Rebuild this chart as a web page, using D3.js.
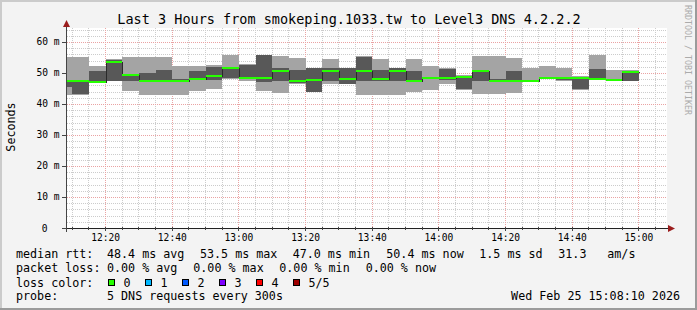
<!DOCTYPE html>
<html lang="en">
<head>
<meta charset="utf-8">
<title>Last 3 Hours from smokeping.1033.tw to Level3 DNS 4.2.2.2</title>
<script src="https://d3js.org/d3.v7.min.js"></script>
<style>
body,html{margin:0;padding:0;background:#f3f3f3;}
svg{display:block;font-family:"DejaVu Sans Mono",monospace;}
</style>
</head>
<body>
<script>
// end time of each 5 minute sample
var times = ["12:10","12:15","12:20","12:25","12:30","12:35","12:40","12:45","12:50","12:55",
             "13:00","13:05","13:10","13:15","13:20","13:25","13:30","13:35","13:40","13:45",
             "13:50","13:55","14:00","14:05","14:10","14:15","14:20","14:25","14:30","14:35",
             "14:40","14:45","14:50","14:55","15:00"];
// sorted pings in ms (5 per sample)
var pingMin = [43.0,43.0,46.7,47.3,44.3,43.0,43.0,43.0,44.1,44.7, 48.2,47.5,44.2,43.4,46.6,43.7,46.6,46.5,43.0,43.0, 43.0,43.8,44.4,46.6,44.6,43.1,43.1,43.4,47.1,48.0, 47.5,44.6,47.7,47.3,47.3];
var ping2   = [45.4,43.1,46.8,47.5,47.4,47.1,47.1,47.1,47.9,47.8, 48.4,48.0,47.1,47.3,46.8,43.8,47.3,46.6,47.3,47.3, 47.3,47.1,48.0,47.8,44.8,47.3,47.2,47.1,47.2,48.1, 47.6,44.7,47.8,47.4,47.4];
var median  = [47.3,47.3,47.0,53.5,49.3,47.3,47.3,47.3,48.1,48.9, 51.6,48.3,48.5,50.5,47.3,47.8,50.5,47.9,50.5,48.0, 50.6,47.3,48.3,48.4,48.7,50.5,47.4,47.3,47.3,48.3, 48.3,48.5,48.0,47.8,50.4];
var ping4   = [47.6,47.6,50.5,54.3,49.6,50.1,51.1,48.1,50.7,52.0, 52.0,52.7,55.7,51.6,51.1,51.6,51.6,51.6,55.1,51.1, 51.6,50.7,48.8,51.4,49.0,50.6,47.9,50.5,47.6,48.6, 48.5,48.8,51.4,48.0,50.6];
var pingMax = [55.2,55.2,52.1,54.4,55.3,55.3,55.3,52.4,52.3,52.7, 55.7,52.8,55.9,55.4,54.7,51.7,54.6,51.7,55.4,54.6, 51.7,54.6,52.1,51.5,49.2,55.4,55.4,54.7,51.6,52.1, 51.5,49.0,55.7,51.1,50.8];

var yTicks = [0,10,20,30,40,50,60];
var rttStats = ["48.4 ms avg","53.5 ms max","47.0 ms min","50.4 ms now","1.5 ms sd","31.3","am/s"];
var lossStats = ["0.00 % avg","0.00 % max","0.00 % min","0.00 % now"];
var lossLabels = ["0","1","2","3","4","5/5"];
var lossColors = ["#26ff00","#00b8ff","#0059ff","#7e00ff","#ff0000","#a00000"];

var W = 697, H = 310;
var svg = d3.select("body").append("svg").attr("width", W).attr("height", H);

function tm(s, sec){ var p = s.split(":"); return new Date(2026,1,25,+p[0],+p[1],sec||0); }

var x = d3.scaleTime()
  .domain([tm("12:08",25), tm("15:08",25)])
  .range([67, 667]);
var y = d3.scaleLinear().domain([0, 64.5]).range([228, 28]);

// background + shaded frame
svg.append("rect").attr("width", W).attr("height", H).attr("fill", "#f3f3f3");
svg.append("path").attr("d", "M0,310 V0 H697 V2 H2 V310 Z").attr("fill", "#cbcbcb");
svg.append("path").attr("d", "M697,0 V310 H0 V308 H695 V0 Z").attr("fill", "#9b9b9b");

// canvas
svg.append("rect").attr("x", 67).attr("y", 28).attr("width", 600).attr("height", 200).attr("fill", "#fff");

var grid = svg.append("g").attr("shape-rendering", "crispEdges").attr("stroke-dasharray", "1,1");

// horizontal grid
grid.selectAll(".hmin").data(d3.range(2, 65, 2).filter(function(d){ return d % 10; }))
  .enter().append("line")
  .attr("x1", 67).attr("x2", 667)
  .attr("y1", function(d){ return Math.round(y(d)) + 0.5; })
  .attr("y2", function(d){ return Math.round(y(d)) + 0.5; })
  .attr("stroke", "#cccccc");

// vertical grid
var fiveMin = x.ticks(d3.timeMinute.every(5));
grid.selectAll(".vmin").data(fiveMin.filter(function(d){ return d.getMinutes() % 20; }))
  .enter().append("line")
  .attr("x1", function(d){ return Math.floor(x(d)) + 0.5; })
  .attr("x2", function(d){ return Math.floor(x(d)) + 0.5; })
  .attr("y1", 28).attr("y2", 228)
  .attr("stroke", "#cccccc");

grid.selectAll(".hmaj").data(yTicks.slice(1))
  .enter().append("line")
  .attr("x1", 67).attr("x2", 667)
  .attr("y1", function(d){ return Math.round(y(d)) + 0.5; })
  .attr("y2", function(d){ return Math.round(y(d)) + 0.5; })
  .attr("stroke", "#eaa3a3");

var majors = x.ticks(d3.timeMinute.every(20));
grid.selectAll(".vmaj").data(majors)
  .enter().append("line")
  .attr("x1", function(d){ return Math.floor(x(d)) + 0.5; })
  .attr("x2", function(d){ return Math.floor(x(d)) + 0.5; })
  .attr("y1", 28).attr("y2", 228)
  .attr("stroke", "#eaa3a3");

// smoke
var cols = times.map(function(t, i){
  var end = tm(t);
  var start = new Date(end.getTime() - 300000);
  return { x0: Math.max(x(start), 67), x1: x(end), min: pingMin[i], p2: ping2[i], med: median[i], p4: ping4[i], max: pingMax[i] };
});

var smoke = svg.append("g").attr("shape-rendering", "crispEdges");
smoke.selectAll(".light").data(cols).enter().append("rect")
  .attr("x", function(d){ return Math.round(d.x0); })
  .attr("width", function(d){ return Math.round(d.x1) - Math.round(d.x0); })
  .attr("y", function(d){ return Math.round(y(d.max)); })
  .attr("height", function(d){ return Math.round(y(d.min)) - Math.round(y(d.max)); })
  .attr("fill", "#a4a4a4");
smoke.selectAll(".dark").data(cols).enter().append("rect")
  .attr("x", function(d){ return Math.round(d.x0); })
  .attr("width", function(d){ return Math.round(d.x1) - Math.round(d.x0); })
  .attr("y", function(d){ return Math.round(y(d.p4)); })
  .attr("height", function(d){ return Math.round(y(d.p2)) - Math.round(y(d.p4)); })
  .attr("fill", "#585858");

// median connectors
var step = d3.line()
  .x(function(d){ return d[0]; })
  .y(function(d){ return d[1]; });
var pts = [];
cols.forEach(function(d){
  pts.push([Math.round(d.x0) + 0.5, Math.round(y(d.med)) + 0.5]);
  pts.push([Math.round(d.x1) + 0.5, Math.round(y(d.med)) + 0.5]);
});
smoke.append("path").attr("d", step(pts)).attr("fill", "none")
  .attr("stroke", "#2a2a2a");

// median band
smoke.selectAll(".med").data(cols).enter().append("rect")
  .attr("x", function(d){ return Math.round(d.x0); })
  .attr("width", function(d){ return Math.round(d.x1) - Math.round(d.x0); })
  .attr("y", function(d){ return Math.round(y(d.med)) - 1; })
  .attr("height", 2)
  .attr("fill", lossColors[0]);

// axes
var ax = svg.append("g").attr("shape-rendering", "crispEdges");
ax.append("line").attr("x1", 62).attr("x2", 670).attr("y1", 228.5).attr("y2", 228.5).attr("stroke", "#222");
ax.append("line").attr("x1", 66.5).attr("x2", 66.5).attr("y1", 232).attr("y2", 25).attr("stroke", "#444");
ax.selectAll(".yt").data(yTicks).enter().append("line")
  .attr("x1", 62).attr("x2", 67)
  .attr("y1", function(d){ return Math.round(y(d)) + 0.5; })
  .attr("y2", function(d){ return Math.round(y(d)) + 0.5; })
  .attr("stroke", "#444");
ax.selectAll(".xt").data(fiveMin).enter().append("line")
  .attr("x1", function(d){ return Math.floor(x(d)) + 0.5; })
  .attr("x2", function(d){ return Math.floor(x(d)) + 0.5; })
  .attr("y1", 227).attr("y2", function(d){ return d.getMinutes() % 20 ? 230 : 231; })
  .attr("stroke", "#444");
svg.append("path").attr("d", "M66.5,20 L63,27 L70,27 Z").attr("fill", "#9b1d1d");
svg.append("path").attr("d", "M675,228.5 L668,225 L668,232 Z").attr("fill", "#9b1d1d");

// tick labels
svg.selectAll(".yl").data(yTicks).enter().append("text")
  .attr("x", function(d){ return d === 0 ? 47.5 : 59.5; })
  .attr("y", function(d){ return y(d) + 3.5; })
  .attr("text-anchor", "end")
  .style("font-size", "9.6px")
  .text(function(d){ return d === 0 ? "0" : d + " m"; });

var fmt = d3.timeFormat("%H:%M");
svg.selectAll(".xl").data(majors).enter().append("text")
  .attr("x", function(d){ return x(d); })
  .attr("y", 241)
  .attr("text-anchor", "middle")
  .style("font-size", "9.6px")
  .text(fmt);

// titles
svg.append("text").attr("x", 349).attr("y", 23.5).attr("text-anchor", "middle")
  .style("font-size", "13.5px")
  .text("Last 3 Hours from smokeping.1033.tw to Level3 DNS 4.2.2.2");
svg.append("text").attr("transform", "translate(15,127) rotate(-90)").attr("text-anchor", "middle")
  .style("font-size", "11.7px").text("Seconds");
svg.append("text").attr("transform", "translate(685,5) rotate(90)")
  .style("font-size", "8.3px").attr("fill", "#ababab")
  .text("RRDTOOL / TOBI OETIKER");

// legend
var lg = svg.append("g").style("font-size", "11.7px");
function row(label, yy){ lg.append("text").attr("x", 16).attr("y", yy).text(label); }
row("median rtt:", 258);
row("packet loss:", 271.5);
row("loss color:", 286.5);
row("probe:", 300);

var rttX = [107, 200, 292.7, 386.3, 479.3, 558.3, 607.3];
lg.selectAll(".rtt").data(rttStats).enter().append("text")
  .attr("x", function(d, i){ return rttX[i]; }).attr("y", 258).text(function(d){ return d; });

var lossX = [107, 193.3, 279.3, 365.7];
lg.selectAll(".loss").data(lossStats).enter().append("text")
  .attr("x", function(d, i){ return lossX[i]; }).attr("y", 271.5).text(function(d){ return d; });

var boxX = [108.5, 145.5, 182.5, 219.5, 256.5, 293.5];
lg.selectAll(".box").data(lossColors).enter().append("rect")
  .attr("x", function(d, i){ return boxX[i]; }).attr("y", 279.5)
  .attr("width", 6).attr("height", 6)
  .attr("fill", function(d){ return d; }).attr("stroke", "#000")
  .attr("shape-rendering", "crispEdges");
lg.selectAll(".lbl").data(lossLabels).enter().append("text")
  .attr("x", function(d, i){ return boxX[i] + 15; }).attr("y", 286.5).text(function(d){ return d; });

lg.append("text").attr("x", 107).attr("y", 300).text("5 DNS requests every 300s");
lg.append("text").attr("x", 680).attr("y", 300).attr("text-anchor", "end").text("Wed Feb 25 15:08:10 2026");
</script>
</body>
</html>
